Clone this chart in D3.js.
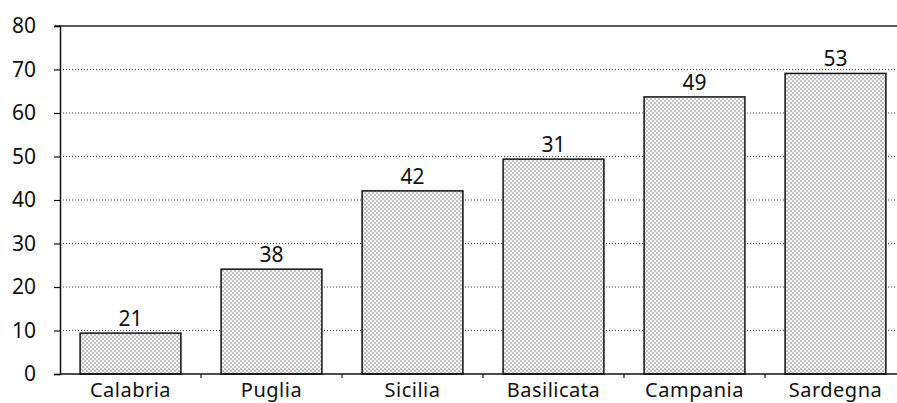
<!DOCTYPE html>
<html>
<head>
<meta charset="utf-8">
<script src="https://cdn.jsdelivr.net/npm/d3@7"></script>
<style>
  body { margin: 0; background: #fff; }
  svg { display: block; }
  text { font-family: "Noto Sans", "Lato", sans-serif; fill: #111; }
</style>
</head>
<body>
<div id="chart"></div>
<script>
// Data
var regions = ["Calabria", "Puglia", "Sicilia", "Basilicata", "Campania", "Sardegna"];
var values = [9.4, 24.1, 42.1, 49.4, 63.7, 69.1];
var barLabels = ["21", "38", "42", "31", "49", "53"];
var yTicks = [0, 10, 20, 30, 40, 50, 60, 70, 80];

var W = 897, H = 403;
var FONT = "'Noto Sans', Lato, sans-serif";
var svg = d3.select("#chart").append("svg").attr("width", W).attr("height", H);

var x = d3.scaleBand().domain(regions).range([60, 906]).paddingInner(0.285).paddingOuter(0.1425);
var y = d3.scaleLinear().domain([0, 80]).range([374, 26]);

// dotted fill
var defs = svg.append("defs");
var pat = defs.append("pattern")
  .attr("id", "dots")
  .attr("patternUnits", "userSpaceOnUse")
  .attr("width", 4).attr("height", 4);
pat.append("rect").attr("width", 4).attr("height", 4).attr("fill", "#f7f7f7");
pat.append("circle").attr("cx", 1).attr("cy", 1).attr("r", 0.7).attr("fill", "#666");
pat.append("circle").attr("cx", 3).attr("cy", 3).attr("r", 0.7).attr("fill", "#666");

// gridlines
svg.append("g")
  .selectAll("line")
  .data(yTicks.filter(function (d) { return d > 0 && d < 80; }))
  .join("line")
  .attr("x1", 60).attr("x2", W)
  .attr("y1", function (d) { return y(d); })
  .attr("y2", function (d) { return y(d); })
  .attr("stroke", "#444")
  .attr("stroke-width", 1)
  .attr("stroke-dasharray", "1,2");

// top line at 80
svg.append("line")
  .attr("x1", 55).attr("x2", W)
  .attr("y1", y(80)).attr("y2", y(80))
  .attr("stroke", "#222").attr("stroke-width", 1.5);

// bars
svg.append("g")
  .selectAll("rect")
  .data(values)
  .join("rect")
  .attr("x", function (d, i) { return x(regions[i]); })
  .attr("width", x.bandwidth())
  .attr("y", function (d) { return y(d); })
  .attr("height", function (d) { return y(0) - y(d); })
  .attr("fill", "url(#dots)")
  .attr("stroke", "#111")
  .attr("stroke-width", 1.5);

// value labels
svg.append("g")
  .selectAll("text")
  .data(values)
  .join("text")
  .attr("x", function (d, i) { return x(regions[i]) + x.bandwidth() / 2; })
  .attr("y", function (d) { return y(d) - 7; })
  .attr("text-anchor", "middle")
  .attr("font-size", 21)
  .text(function (d, i) { return barLabels[i]; });

// y axis
var yAxis = d3.axisLeft(y).tickValues(yTicks).tickSize(6).tickPadding(18);
var yg = svg.append("g").attr("transform", "translate(60,0)").call(yAxis);
yg.select(".domain").attr("stroke", "#111").attr("stroke-width", 1.5);
yg.selectAll(".tick line").attr("stroke", "#111").attr("stroke-width", 1.2);
yg.selectAll(".tick text").attr("font-size", 21).attr("font-family", FONT).attr("fill", "#111");

// x axis
var xg = svg.append("g").attr("transform", "translate(0," + y(0) + ")");
xg.append("line").attr("x1", 60).attr("x2", W).attr("stroke", "#111").attr("stroke-width", 1.5);
xg.selectAll(".sep")
  .data(regions.slice(1))
  .join("line")
  .attr("class", "sep")
  .attr("x1", function (d) { return x(d) - x.step() * x.paddingInner() / 2; })
  .attr("x2", function (d) { return x(d) - x.step() * x.paddingInner() / 2; })
  .attr("y1", 0).attr("y2", 4)
  .attr("stroke", "#111").attr("stroke-width", 1.2);
xg.selectAll(".lab")
  .data(regions)
  .join("text")
  .attr("class", "lab")
  .attr("x", function (d) { return x(d) + x.bandwidth() / 2; })
  .attr("y", 23)
  .attr("text-anchor", "middle")
  .attr("font-size", 20)
  .attr("letter-spacing", 0.5)
  .text(function (d) { return d; });
</script>
</body>
</html>
